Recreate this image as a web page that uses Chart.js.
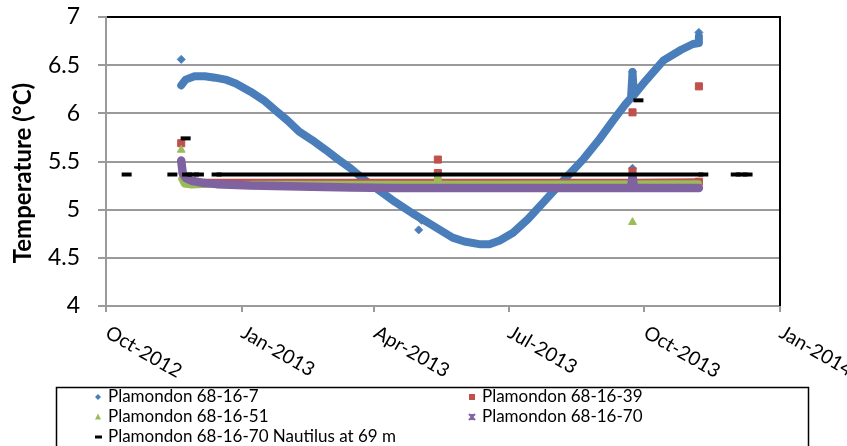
<!DOCTYPE html>
<html>
<head>
<meta charset="utf-8">
<script src="https://cdn.jsdelivr.net/npm/chart.js@4.4.1/dist/chart.umd.min.js"></script>
<style>
  html, body { margin: 0; padding: 0; background: #fff; }
  canvas { display: block; }
</style>
</head>
<body>
<canvas id="tempChart" width="847" height="446"></canvas>
<script>
// Series names, in legend order
const SERIES_NAMES = [
    'Plamondon 68-16-7',
    'Plamondon 68-16-39',
    'Plamondon 68-16-51',
    'Plamondon 68-16-70',
    'Plamondon 68-16-70 Nautilus at 69 m'
];
const SERIES_COLORS = ['#4a7ebb', '#c0504d', '#9bbb59', '#7f63a1', '#000000'];

// x axis ticks
const TICK_DATES = ['2012-10-01', '2013-01-01', '2013-04-01', '2013-07-01', '2013-10-01', '2014-01-01'];
const TICK_LABELS = ['Oct-2012', 'Jan-2013', 'Apr-2013', 'Jul-2013', 'Oct-2013', 'Jan-2014'];

// 68-16-7 logger (dense readings, traced as a band)
const well7Band = [
    ['2012-11-21', 6.29], ['2012-11-24', 6.35], ['2012-11-30', 6.385], ['2012-12-07', 6.385],
    ['2012-12-14', 6.37], ['2012-12-21', 6.35], ['2012-12-28', 6.31], ['2013-01-07', 6.225],
    ['2013-01-16', 6.135], ['2013-01-24', 6.03], ['2013-02-01', 5.927], ['2013-02-09', 5.81],
    ['2013-02-18', 5.72], ['2013-02-27', 5.62], ['2013-03-07', 5.526], ['2013-03-16', 5.427],
    ['2013-03-26', 5.30], ['2013-04-05', 5.19], ['2013-04-15', 5.08], ['2013-04-27', 4.96],
    ['2013-05-09', 4.85], ['2013-05-24', 4.71], ['2013-06-01', 4.67], ['2013-06-12', 4.64],
    ['2013-06-18', 4.64], ['2013-06-25', 4.68], ['2013-07-04', 4.76], ['2013-07-14', 4.90],
    ['2013-07-23', 5.05], ['2013-08-01', 5.20], ['2013-08-10', 5.35], ['2013-08-21', 5.53],
    ['2013-08-31', 5.72], ['2013-09-10', 5.93], ['2013-09-18', 6.09], ['2013-09-22', 6.16],
    ['2013-09-23', 6.43], ['2013-09-24', 6.19], ['2013-10-02', 6.34], ['2013-10-14', 6.55],
    ['2013-10-26', 6.66], ['2013-11-03', 6.72], ['2013-11-07', 6.73], ['2013-11-07', 6.80]
];
const well7Marks = [
    ['2012-11-21', 6.56], ['2013-05-01', 4.79], ['2013-05-03', 4.89],
    ['2013-09-23', 5.43], ['2013-09-23', 6.43], ['2013-11-07', 6.84]
];

// 68-16-39 logger
const well39Band = [
    ['2012-11-21', 5.38], ['2012-11-22', 5.29], ['2012-12-01', 5.295], ['2013-05-13', 5.295],
    ['2013-05-14', 5.38], ['2013-05-15', 5.295], ['2013-09-22', 5.295], ['2013-09-23', 5.40],
    ['2013-09-24', 5.295], ['2013-11-07', 5.30]
];
const well39Marks = [
    ['2012-11-21', 5.69], ['2013-05-14', 5.52], ['2013-05-14', 5.38],
    ['2013-09-23', 6.01], ['2013-09-23', 5.40], ['2013-11-07', 6.28], ['2013-11-07', 5.29]
];

// 68-16-51 logger
const well51Band = [
    ['2012-11-21', 5.32], ['2012-11-23', 5.26], ['2012-11-28', 5.25], ['2012-12-12', 5.26],
    ['2013-01-10', 5.27], ['2013-05-13', 5.27], ['2013-05-14', 5.34], ['2013-05-15', 5.27],
    ['2013-11-07', 5.275]
];
const well51Marks = [
    ['2012-11-21', 5.62], ['2013-05-14', 5.34], ['2013-09-23', 4.87]
];

// 68-16-70 logger
const well70Band = [
    ['2012-11-21', 5.51], ['2012-11-22', 5.38], ['2012-11-24', 5.33], ['2012-11-28', 5.30],
    ['2012-12-05', 5.28], ['2012-12-15', 5.265], ['2013-01-07', 5.25], ['2013-02-09', 5.24],
    ['2013-03-16', 5.23], ['2013-04-15', 5.224], ['2013-09-22', 5.224], ['2013-09-23', 5.35],
    ['2013-09-24', 5.224], ['2013-11-07', 5.224]
];

// Nautilus readings at 69 m (null = gap in the record)
const nautilusData = [
    ['2012-10-15', 5.365], ['2012-10-16', null],
    ['2012-11-15', 5.365], ['2012-11-16', null],
    ['2012-11-24', 5.74], ['2012-11-24', null],
    ['2012-11-25', 5.365], ['2012-12-03', 5.365], ['2012-12-04', null],
    ['2012-12-15', 5.365], ['2013-11-10', 5.365], ['2013-11-11', null],
    ['2013-09-27', 6.135], ['2013-09-28', null],
    ['2013-12-02', 5.365], ['2013-12-10', 5.365]
];

const GRID_GRAY = '#9a9a9a';

function toPoints(rows) {
    return rows.map(([d, v]) => ({ x: Date.parse(d), y: v }));
}

function band(data, color, width, order) {
    return {
        data: toPoints(data),
        showLine: true,
        borderColor: color,
        borderWidth: width,
        borderCapStyle: 'round',
        borderJoinStyle: 'round',
        pointRadius: 0,
        order: order
    };
}

function marks(data, color, style, radius, order) {
    return {
        data: toPoints(data),
        showLine: false,
        pointStyle: style,
        pointRadius: radius,
        backgroundColor: color,
        borderColor: color,
        borderWidth: 1,
        order: order
    };
}

// Legend + rotated date labels + axis title, drawn the way the spreadsheet had them
const extrasPlugin = {
    id: 'extras',
    afterDraw(chart) {
        const { ctx, chartArea, scales } = chart;
        ctx.save();

        // right edge of plot area
        ctx.strokeStyle = '#000';
        ctx.lineWidth = 2;
        ctx.beginPath();
        ctx.moveTo(chartArea.right, chartArea.top - 1);
        ctx.lineTo(chartArea.right, chartArea.bottom);
        ctx.stroke();

        // date labels, slanted down to the right
        ctx.fillStyle = '#000';
        ctx.font = '19.5px Lato';
        ctx.textAlign = 'left';
        ctx.textBaseline = 'top';
        TICK_DATES.forEach((d, i) => {
            const px = scales.x.getPixelForValue(Date.parse(d));
            ctx.save();
            ctx.translate(px + 6, 322.5);
            ctx.rotate(30 * Math.PI / 180);
            ctx.fillText(TICK_LABELS[i], 0, 0);
            ctx.restore();
        });

        // y axis title
        ctx.save();
        ctx.font = 'bold 24px Lato';
        ctx.textAlign = 'center';
        ctx.textBaseline = 'alphabetic';
        ctx.translate(31, 173);
        ctx.rotate(-Math.PI / 2);
        ctx.fillText('Temperature (°C)', 0, 0);
        ctx.restore();

        // legend box
        ctx.strokeStyle = '#000';
        ctx.lineWidth = 1.5;
        ctx.strokeRect(56.5, 387.5, 752, 70);

        const slots = [[98, 397], [472, 397], [98, 417], [472, 417], [98, 437]];
        ctx.font = '17px Lato';
        ctx.textBaseline = 'middle';
        slots.forEach(([x, y], i) => {
            const c = SERIES_COLORS[i];
            ctx.fillStyle = c;
            ctx.strokeStyle = c;
            ctx.beginPath();
            if (i === 0) {
                ctx.moveTo(x, y - 3); ctx.lineTo(x + 3, y); ctx.lineTo(x, y + 3); ctx.lineTo(x - 3, y);
                ctx.closePath(); ctx.fill();
            } else if (i === 1) {
                ctx.fillRect(x - 3, y - 3, 6, 6);
            } else if (i === 2) {
                ctx.moveTo(x, y - 3.5); ctx.lineTo(x + 3, y + 2.5); ctx.lineTo(x - 3, y + 2.5);
                ctx.closePath(); ctx.fill();
            } else if (i === 3) {
                ctx.lineWidth = 2;
                ctx.moveTo(x - 3, y - 3); ctx.lineTo(x + 3, y + 3);
                ctx.moveTo(x + 3, y - 3); ctx.lineTo(x - 3, y + 3);
                ctx.moveTo(x, y - 3); ctx.lineTo(x, y + 3);
                ctx.stroke();
            } else {
                ctx.fillRect(x - 3, y - 1.5, 7, 3);
            }
            ctx.fillStyle = '#000';
            ctx.fillText(SERIES_NAMES[i], x + 10, y);
        });

        ctx.restore();
    }
};

const ctx = document.getElementById('tempChart').getContext('2d');
new Chart(ctx, {
    type: 'scatter',
    data: {
        datasets: [
            {
                label: SERIES_NAMES[4],
                data: toPoints(nautilusData),
                showLine: true,
                spanGaps: false,
                borderColor: '#000',
                borderWidth: 4,
                pointStyle: 'line',
                pointRadius: 5,
                pointBorderWidth: 4,
                pointBorderColor: '#000',
                order: 1
            },
            Object.assign(band(well70Band, SERIES_COLORS[3], 8.5, 2), { label: SERIES_NAMES[3] }),
            Object.assign(marks(well51Marks, SERIES_COLORS[2], 'triangle', 4.5, 3), { label: SERIES_NAMES[2] }),
            band(well51Band, SERIES_COLORS[2], 6, 3),
            Object.assign(marks(well39Marks, SERIES_COLORS[1], 'rect', 5, 4), { label: SERIES_NAMES[1] }),
            band(well39Band, SERIES_COLORS[1], 5, 4),
            Object.assign(marks(well7Marks, SERIES_COLORS[0], 'rectRot', 4, 5), { label: SERIES_NAMES[0] }),
            band(well7Band, SERIES_COLORS[0], 8, 5)
        ]
    },
    options: {
        responsive: false,
        animation: false,
        events: [],
        layout: {
            padding: { left: 0, top: 17, right: 67, bottom: 0 }
        },
        scales: {
            x: {
                type: 'linear',
                min: Date.parse(TICK_DATES[0]),
                max: Date.parse(TICK_DATES[TICK_DATES.length - 1]),
                afterBuildTicks: scale => {
                    scale.ticks = TICK_DATES.map(d => ({ value: Date.parse(d) }));
                },
                afterFit: scale => { scale.height = 140; },
                ticks: { display: false },
                grid: {
                    drawOnChartArea: false,
                    drawTicks: true,
                    tickLength: 6,
                    color: GRID_GRAY,
                    lineWidth: 2
                },
                border: { color: GRID_GRAY, width: 2 }
            },
            y: {
                min: 4,
                max: 7,
                afterFit: scale => {
                    scale.width = 106;
                    // label padding would otherwise push the plot area down
                    scale.paddingTop = 0;
                    scale.paddingBottom = 0;
                },
                ticks: {
                    stepSize: 0.5,
                    padding: 18,
                    color: '#000',
                    font: { family: 'Lato', size: 23 },
                    callback: value => String(value)
                },
                grid: {
                    color: c => (c.tick && c.tick.value === 7 ? '#000' : GRID_GRAY),
                    tickColor: GRID_GRAY,
                    lineWidth: 2,
                    tickLength: 8
                },
                border: { color: GRID_GRAY, width: 2 }
            }
        },
        plugins: {
            legend: { display: false },
            tooltip: { enabled: false }
        }
    },
    plugins: [extrasPlugin]
});
</script>
</body>
</html>
